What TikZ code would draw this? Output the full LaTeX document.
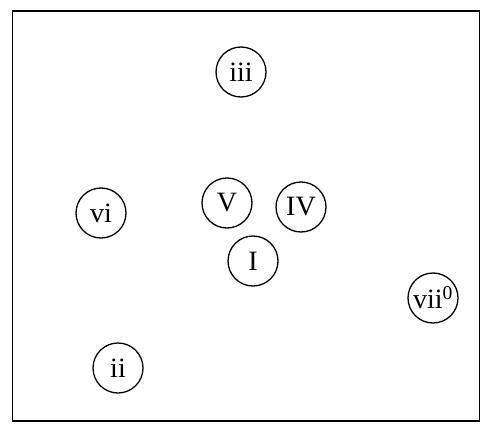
\documentclass[tikz,border=0pt]{standalone}
\usepackage{fontspec}
\setmainfont{Liberation Serif}
\usetikzlibrary{positioning}

\begin{document}
\begin{tikzpicture}[x=1pt, y=-1pt, thick]
    % Define chord styles
    \tikzstyle{chord} = [circle, draw, line width=1.3pt, minimum size=50pt, inner sep=0pt, font=\fontsize{28}{30}\selectfont]

    \useasboundingbox (0,0) rectangle (492,433);
    \node [draw, line width=1.6pt, minimum width=467pt, minimum height=410pt, inner sep=0pt] (frame) at (245.8,216) {};

    % Place chords
    \node [chord] (iii) at (241,72) {iii};
    \node [chord] (vi) at (101,213) {vi};
    \node [chord] (V) at (227,203) {V};
    \node [chord] (IV) at (301,207) {IV};
    \node [chord] (I) at (253,261) {I};
    \node [chord] (vii) at (433,298) {vii\textsuperscript{0}};
    \node [chord] (ii) at (118,368) {ii};

\end{tikzpicture}
\end{document}
